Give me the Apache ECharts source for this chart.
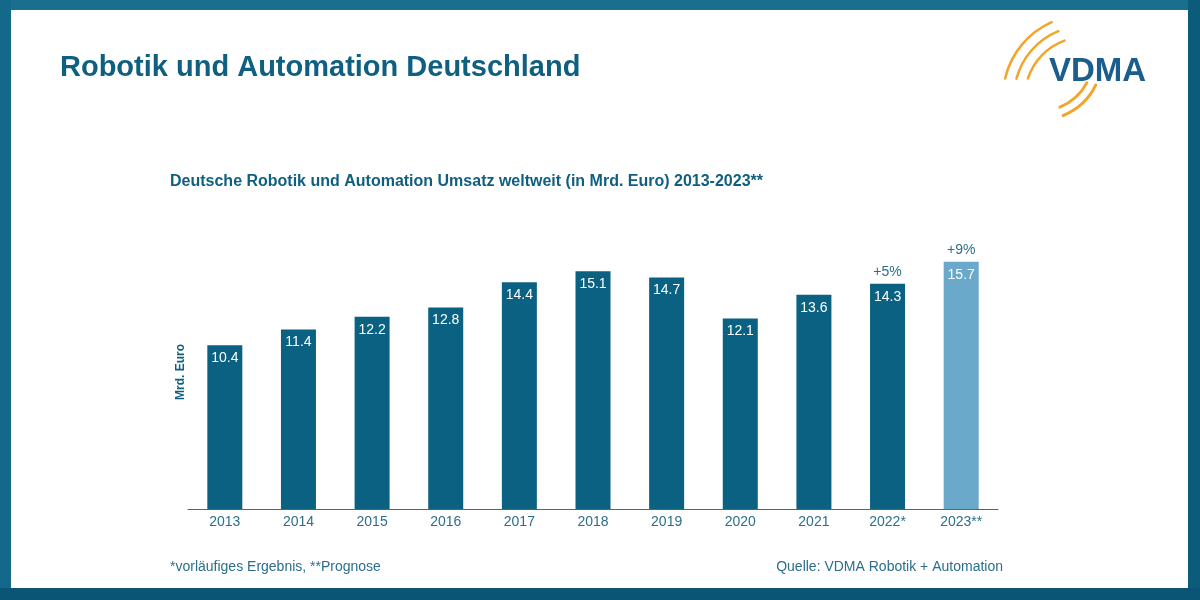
<!DOCTYPE html>
<html>
<head>
<meta charset="utf-8">
<script src="https://cdn.jsdelivr.net/npm/echarts@6/dist/echarts.min.js"></script>
<style>
  html, body { margin: 0; padding: 0; background: #fff; }
  #chart { width: 1200px; height: 600px; }
</style>
</head>
<body>
<div id="chart"></div>
<script>
// chart data
let years = ['2013', '2014', '2015', '2016', '2017', '2018', '2019', '2020', '2021', '2022*', '2023**'];
let umsatz = [10.4, 11.4, 12.2, 12.8, 14.4, 15.1, 14.7, 12.1, 13.6, 14.3, 15.7];
let growth = ['', '', '', '', '', '', '', '', '', '+5%', '+9%'];

let dark = '#0b6181';
let light = '#6aa9ca';
let teal = '#0f5f80';
let orange = '#f2a52a';
let font = '"Liberation Sans", Arial, sans-serif';

let barData = umsatz.map((v, i) => ({
    value: v,
    itemStyle: { color: i === umsatz.length - 1 ? light : dark }
}));

function arc(cx, cy, r, a0, a1, w) {
    return {
        type: 'arc',
        shape: { cx: cx, cy: cy, r: r, startAngle: a0 * Math.PI / 180, endAngle: a1 * Math.PI / 180 },
        style: { stroke: orange, lineWidth: w, fill: null, lineCap: 'round' }
    };
}

let ctx = document.getElementById('chart');
let chart = echarts.init(ctx);

let option = {
    backgroundColor: '#fff',
    animation: false,
    grid: { left: 188, right: 202, top: 194, bottom: 91 },
    xAxis: {
        type: 'category',
        data: years,
        axisLine: { lineStyle: { color: '#2b7393', width: 1 } },
        axisTick: { show: false },
        axisLabel: { color: '#2b6f8c', fontSize: 14, fontFamily: font, margin: 6 }
    },
    yAxis: {
        type: 'value',
        min: 0,
        max: 20,
        show: false
    },
    series: [{
        type: 'bar',
        data: barData,
        barWidth: 35,
        label: {
            show: true,
            position: 'insideTop',
            distance: 6,
            color: '#fff',
            fontSize: 14,
            fontFamily: font,
            formatter: p => p.value.toFixed(1)
        }
    }, {
        type: 'bar',
        data: umsatz,
        barWidth: 35,
        barGap: '-100%',
        itemStyle: { color: 'rgba(0,0,0,0)' },
        silent: true,
        label: {
            show: true,
            position: 'top',
            distance: 5,
            color: '#2b6f8c',
            fontSize: 14,
            fontFamily: font,
            formatter: p => growth[p.dataIndex]
        }
    }],
    graphic: [
        // frame
        { type: 'rect', shape: { x: 0, y: 0, width: 1200, height: 10 }, style: { fill: '#1a6f8f' } },
        { type: 'rect', shape: { x: 0, y: 0, width: 11, height: 600 }, style: { fill: '#14698a' } },
        { type: 'rect', shape: { x: 1188, y: 0, width: 12, height: 600 }, style: { fill: '#0c5b7a' } },
        { type: 'rect', shape: { x: 0, y: 588, width: 1200, height: 12 }, style: { fill: '#0a5575' } },
        // titles
        {
            type: 'text', left: 60, top: 53,
            style: { text: 'Robotik und Automation Deutschland', fill: teal, font: 'bold 29px ' + font }
        },
        {
            type: 'text', left: 170, top: 174,
            style: { text: 'Deutsche Robotik und Automation Umsatz weltweit (in Mrd. Euro) 2013-2023**', fill: teal, font: 'bold 16px ' + font }
        },
        {
            type: 'text', x: 181, y: 372, rotation: Math.PI / 2,
            style: { text: 'Mrd. Euro', fill: teal, font: 'bold 12px ' + font, align: 'center', verticalAlign: 'middle' }
        },
        {
            type: 'text', left: 170, top: 560,
            style: { text: '*vorläufiges Ergebnis, **Prognose', fill: '#2b6f8c', font: '14px ' + font }
        },
        {
            type: 'text', right: 197, top: 560,
            style: { text: 'Quelle: VDMA Robotik + Automation', fill: '#2b6f8c', font: '14px ' + font }
        },
        // logo
        arc(1085, 97, 82, 193, 246, 2.5),
        arc(1085, 97, 71, 195, 248, 2.5),
        arc(1085, 97, 60, 198, 250, 2.5),
        arc(1040, 58, 62, 26, 68, 3),
        arc(1040, 58, 53, 28, 68, 3),
        {
            type: 'text', left: 1049, top: 55,
            style: { text: 'VDMA', fill: '#1b5e8e', font: 'bold 33px ' + font }
        }
    ]
};

chart.setOption(option, true);

window.onresize = () => {
    chart.resize();
};
</script>
</body>
</html>
